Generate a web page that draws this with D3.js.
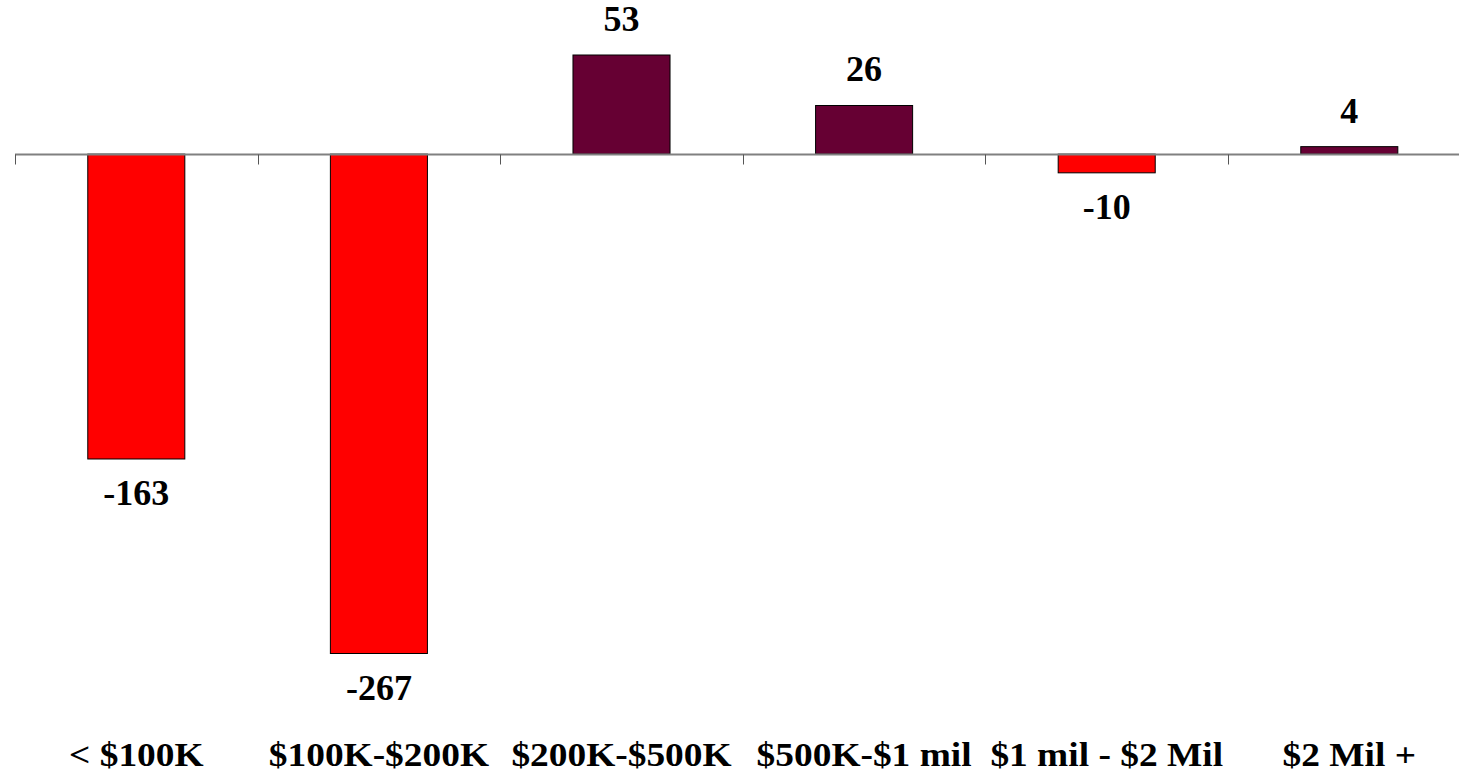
<!DOCTYPE html>
<html>
<head>
<meta charset="utf-8">
<script src="https://cdn.jsdelivr.net/npm/d3@7"></script>
<style>
  html, body { margin: 0; padding: 0; background: #fff; }
  svg { display: block; }
</style>
</head>
<body>
<script>
// Net change by price bracket
const categories = ["< $100K", "$100K-$200K", "$200K-$500K", "$500K-$1 mil", "$1 mil - $2 Mil", "$2 Mil +"];
const values = [-163, -267, 53, 26, -10, 4];

const width = 1459, height = 774;
const svg = d3.select("body").append("svg")
  .attr("width", width).attr("height", height);

const x = d3.scaleBand().domain(categories).range([15, 1470.6]).padding(0);
const y = d3.scaleLinear().domain([-267, 53]).range([653.5, 55]);

const barW = x.bandwidth() * 0.4;
const font = "'Liberation Serif', 'Times New Roman', serif";

// bars
svg.append("g").selectAll("rect").data(values).join("rect")
  .attr("x", (d, i) => x(categories[i]) + (x.bandwidth() - barW) / 2)
  .attr("y", d => y(Math.max(0, d)))
  .attr("width", barW)
  .attr("height", d => Math.abs(y(d) - y(0)))
  .attr("fill", d => d < 0 ? "#ff0000" : "#660033")
  .attr("stroke", "#000")
  .attr("stroke-width", 1);

// zero axis with downward ticks at category boundaries
const y0 = Math.round(y(0)) + 0.5;
const axis = svg.append("g");
axis.append("line")
  .attr("x1", 15).attr("x2", width).attr("y1", y0).attr("y2", y0)
  .attr("stroke", "#808080").attr("stroke-width", 2);
axis.selectAll("line.tick").data(d3.range(categories.length + 1)).join("line")
  .attr("class", "tick")
  .attr("x1", i => Math.round(15 + i * x.step()) + 0.5)
  .attr("x2", i => Math.round(15 + i * x.step()) + 0.5)
  .attr("y1", y0).attr("y2", y0 + 10)
  .attr("stroke", "#555").attr("stroke-width", 1);

// value labels
svg.append("g").selectAll("text").data(values).join("text")
  .attr("x", (d, i) => x(categories[i]) + x.bandwidth() / 2)
  .attr("y", d => d >= 0 ? y(d) - 24 : y(d) + 46)
  .attr("text-anchor", "middle")
  .attr("font-family", font)
  .attr("font-weight", "bold")
  .attr("font-size", 36)
  .text(d => d);

// category labels (slightly widened lettering)
svg.append("g").selectAll("text").data(categories).join("text")
  .attr("transform", d => `translate(${x(d) + x.bandwidth() / 2},766) scale(1.1,1)`)
  .attr("text-anchor", "middle")
  .attr("font-family", font)
  .attr("font-weight", "bold")
  .attr("font-size", 34)
  .text(d => d);
</script>
</body>
</html>
